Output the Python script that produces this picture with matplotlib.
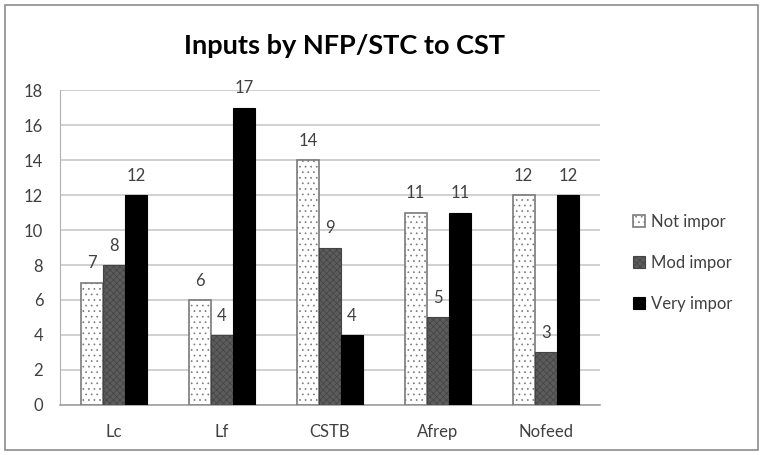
import numpy as np
import matplotlib.pyplot as plt
from matplotlib.patches import Rectangle

categories = ['Lc', 'Lf', 'CSTB', 'Afrep', 'Nofeed']
not_impor = [7, 6, 14, 11, 12]
mod_impor = [8, 4, 9, 5, 3]
very_impor = [12, 17, 4, 11, 12]
series_names = ['Not impor', 'Mod impor', 'Very impor']

plt.rcParams['font.family'] = ['Lato', 'DejaVu Sans']
plt.rcParams['hatch.linewidth'] = 0.5

fig = plt.figure(figsize=(7.63, 4.55), dpi=100)
ax = fig.add_axes([0.0786, 0.11, 0.7075, 0.692])

# outer chart border
fig.patches.append(Rectangle((0.007, 0.012), 0.986, 0.976, transform=fig.transFigure,
                             fill=False, edgecolor='#8c8c8c', linewidth=1.2))

x = np.arange(len(categories))
w = 0.205
b1 = ax.bar(x - w, not_impor, w, color='white', edgecolor='#7a7a7a', hatch='...',
            linewidth=1.2, label=series_names[0], zorder=3)
b2 = ax.bar(x, mod_impor, w, color='#5c5c5c', edgecolor='#444444', hatch='xxxxx',
            linewidth=0.8, label=series_names[1], zorder=3)
b3 = ax.bar(x + w, very_impor, w, color='black', edgecolor='black',
            linewidth=0.8, label=series_names[2], zorder=3)

for bars in (b1, b2, b3):
    ax.bar_label(bars, padding=8, fontsize=12, color='#404040')

ax.set_xlim(-0.5, len(categories) - 0.5)
ax.set_ylim(0, 18)
ax.set_yticks(range(0, 19, 2))
ax.set_xticks(x)
ax.set_xticklabels(categories)
ax.tick_params(axis='both', labelsize=12, colors='#404040')
ax.tick_params(axis='x', length=0, pad=14)
ax.tick_params(axis='y', length=0, pad=12)
ax.grid(axis='y', color='#c8c8c8', linewidth=1.2, zorder=0)
for s in ['top', 'right']:
    ax.spines[s].set_visible(False)
ax.spines['left'].set_color('#b0b0b0')
ax.spines['bottom'].set_color('#a0a0a0')
ax.spines['bottom'].set_linewidth(1.2)

fig.suptitle('Inputs by NFP/STC to CST', x=0.452, y=0.925, fontsize=19.5,
             fontweight='bold', color='black')

fig.legend(loc='center left', bbox_to_anchor=(0.81, 0.422), frameon=False,
           fontsize=12, labelspacing=1.5, handlelength=0.7, handleheight=0.7,
           handletextpad=0.4, labelcolor='#404040')

fig.savefig('out.png', dpi=100)
